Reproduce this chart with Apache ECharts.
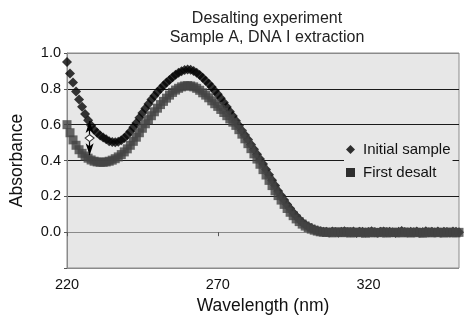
<!DOCTYPE html>
<html>
<head>
<meta charset="utf-8">
<script src="https://cdn.jsdelivr.net/npm/echarts@6/dist/echarts.min.js"></script>
<style>
  html, body { margin: 0; padding: 0; background: #ffffff; }
  #chart { width: 474px; height: 329px; }
</style>
</head>
<body>
<div id="chart"></div>
<script>
// Wavelength grid (nm), one reading per nanometre
const wavelengths = [
  220,221,222,223,224,225,226,227,228,229,230,231,232,233,234,235,236,237,238,239,
  240,241,242,243,244,245,246,247,248,249,250,251,252,253,254,255,256,257,258,259,
  260,261,262,263,264,265,266,267,268,269,270,271,272,273,274,275,276,277,278,279,
  280,281,282,283,284,285,286,287,288,289,290,291,292,293,294,295,296,297,298,299,
  300,301,302,303,304,305,306,307,308,309,310,311,312,313,314,315,316,317,318,319,
  320,321,322,323,324,325,326,327,328,329,330,331,332,333,334,335,336,337,338,339,
  340,341,342,343,344,345,346,347,348,349,350
];

// Absorbance of the initial sample
const initialSample = [
  0.950,0.885,0.835,0.785,0.740,0.700,0.660,0.625,0.595,0.572,
  0.555,0.540,0.528,0.518,0.508,0.503,0.502,0.505,0.513,0.525,
  0.542,0.562,0.585,0.610,0.638,0.665,0.690,0.715,0.740,0.762,
  0.782,0.800,0.818,0.835,0.850,0.865,0.878,0.890,0.898,0.905,
  0.908,0.906,0.900,0.890,0.877,0.862,0.845,0.828,0.810,0.790,
  0.770,0.748,0.724,0.699,0.674,0.648,0.622,0.595,0.568,0.543,
  0.517,0.490,0.463,0.435,0.408,0.380,0.350,0.320,0.290,0.260,
  0.230,0.205,0.180,0.155,0.132,0.110,0.090,0.072,0.056,0.043,
  0.032,0.023,0.015,0.009,0.005,0.002,
  0.003,-0.002,0.004,0.001,-0.003,0.002,0.005,-0.001,0.000,0.004,
  -0.004,0.002,0.003,-0.002,0.001,0.005,0.000,-0.003,0.002,0.004,
  -0.001,0.003,0.000,-0.004,0.002,0.006,0.001,-0.002,0.003,0.000,
  0.004,-0.003,0.001,0.005,-0.001,0.002,0.000,0.004,-0.002,0.003,
  0.001,-0.003,0.004,0.002,0.000
];

// Absorbance after the first desalting step
const firstDesalt = [
  0.600,0.555,0.515,0.485,0.460,0.440,0.425,0.413,0.403,0.396,
  0.392,0.390,0.390,0.392,0.396,0.402,0.410,0.420,0.433,0.448,
  0.465,0.485,0.507,0.530,0.555,0.580,0.605,0.628,0.650,0.672,
  0.692,0.712,0.730,0.748,0.765,0.780,0.793,0.803,0.811,0.816,
  0.818,0.816,0.811,0.803,0.792,0.778,0.765,0.750,0.733,0.717,
  0.702,0.685,0.668,0.650,0.632,0.614,0.596,0.572,0.547,0.521,
  0.494,0.466,0.437,0.408,0.379,0.349,0.319,0.289,0.260,0.231,
  0.204,0.179,0.155,0.132,0.111,0.092,0.074,0.059,0.045,0.034,
  0.025,0.017,0.011,0.006,0.002,0.000,
  -0.002,0.001,-0.004,0.000,0.002,-0.003,-0.001,0.003,-0.005,-0.002,
  0.001,-0.003,0.000,-0.006,-0.002,0.001,-0.004,-0.001,-0.003,0.002,
  -0.005,-0.002,0.000,-0.003,-0.001,-0.004,0.001,-0.002,-0.005,-0.001,
  0.000,-0.003,-0.006,-0.002,0.001,-0.004,-0.001,-0.003,0.000,-0.005,
  -0.002,0.001,-0.003,-0.004,-0.001
];

// Tick labels
const xTickValues = [220, 270, 320];
const seriesNames = ['Initial sample', 'First desalt'];

// Double-headed arrow marking the drop between the two readings
const arrowWavelength = 227.5;
const arrowTop = 0.62;
const arrowBottom = 0.43;
const arrowMid = 0.525;

const FONT = '"Liberation Sans", Arial, Helvetica, sans-serif';

const pairs = (ys) => wavelengths.map((w, i) => [w, ys[i]]);

const chart = echarts.init(document.getElementById('chart'), null, { renderer: 'canvas' });

chart.setOption({
  animation: false,
  backgroundColor: '#ffffff',
  textStyle: { fontFamily: FONT },
  title: {
    text: 'Desalting experiment\nSample A, DNA I extraction',
    left: 262,
    textAlign: 'center',
    top: 4,
    textStyle: { fontFamily: FONT, fontSize: 16, fontWeight: 'normal', color: '#222', lineHeight: 19 }
  },
  grid: {
    left: 65, right: 15, top: 53, bottom: 61,
    show: true,
    backgroundColor: '#e7e7e7',
    borderColor: '#8a8a8a',
    borderWidth: 1
  },
  legend: {
    orient: 'vertical',
    left: 344,
    top: 137,
    backgroundColor: '#e7e7e7',
    padding: [5, 2, 5, 2],
    itemWidth: 9,
    itemHeight: 9,
    itemGap: 8,
    itemStyle: { color: '#000' },
    data: [
      { name: seriesNames[0], icon: 'diamond', itemStyle: { color: '#000' } },
      { name: seriesNames[1], icon: 'rect', itemStyle: { color: '#000' } }
    ],
    textStyle: { fontFamily: FONT, fontSize: 15, color: '#111', padding: [0, 0, 0, 3] }
  },
  xAxis: {
    type: 'value',
    min: 220,
    max: 350,
    name: 'Wavelength (nm)',
    nameLocation: 'middle',
    nameGap: 25,
    nameTextStyle: { fontFamily: FONT, fontSize: 17.5, color: '#111' },
    axisLine: { show: true, lineStyle: { color: '#8a8a8a', width: 1 } },
    axisTick: { show: true, length: 4, customValues: xTickValues, lineStyle: { color: '#555' } },
    axisLabel: { customValues: xTickValues, margin: 9, fontFamily: FONT, fontSize: 14.5, color: '#111' },
    splitLine: { show: false }
  },
  yAxis: {
    type: 'value',
    min: -0.2,
    max: 1.0,
    interval: 0.2,
    name: 'Absorbance',
    nameLocation: 'middle',
    nameGap: 41,
    nameRotate: 90,
    nameTextStyle: { fontFamily: FONT, fontSize: 17.5, color: '#111' },
    axisLine: { show: true, lineStyle: { color: '#8a8a8a', width: 1 } },
    axisTick: { show: true, length: 3, lineStyle: { color: '#555' } },
    axisLabel: {
      margin: 6,
      fontFamily: FONT,
      fontSize: 14.5,
      color: '#111',
      formatter: (v) => (v < -0.1 ? '' : v.toFixed(1))
    },
    splitLine: {
      show: true,
      lineStyle: {
        color: ['#8a8a8a', '#1a1a1a', '#1a1a1a', '#1a1a1a', '#1a1a1a', '#1a1a1a', '#8a8a8a'],
        width: 1.2
      }
    }
  },
  series: [
    {
      name: seriesNames[0],
      type: 'scatter',
      symbol: 'diamond',
      symbolSize: 10,
      itemStyle: { color: '#050505' },
      data: pairs(initialSample),
      markLine: {
        silent: true,
        symbol: ['arrow', 'arrow'],
        symbolSize: [6, 12],
        label: { show: false },
        lineStyle: { color: '#000', width: 1.2, type: 'solid' },
        data: [[
          { coord: [arrowWavelength, arrowTop] },
          { coord: [arrowWavelength, arrowBottom] }
        ]]
      },
      markPoint: {
        silent: true,
        symbol: 'diamond',
        symbolSize: [9, 7],
        label: { show: false },
        itemStyle: { color: '#ffffff', borderColor: '#333', borderWidth: 1 },
        data: [{ coord: [arrowWavelength, arrowMid] }]
      },
      z: 2
    },
    {
      name: seriesNames[1],
      type: 'scatter',
      symbol: 'rect',
      symbolSize: 9,
      itemStyle: { color: '#444444' },
      data: pairs(firstDesalt),
      z: 3
    }
  ]
});
</script>
</body>
</html>
